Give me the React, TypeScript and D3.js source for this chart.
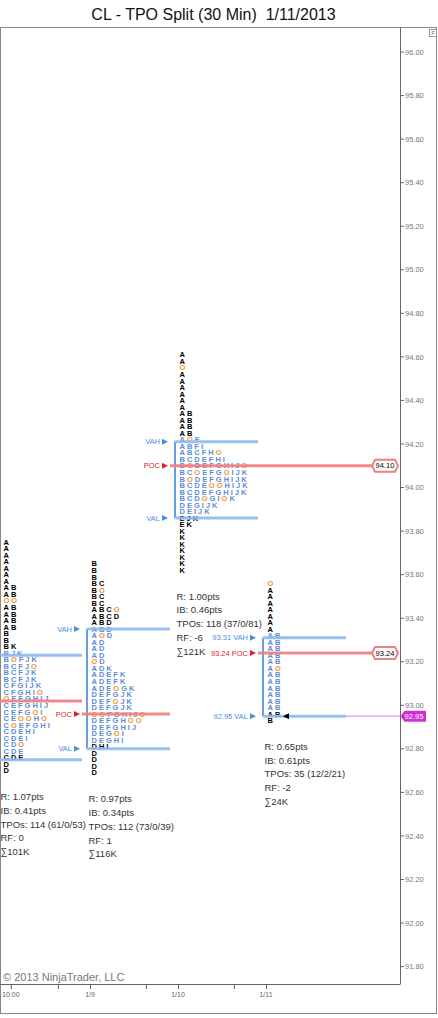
import React from 'react';
import * as d3 from 'd3';

// sessions (x axis) and TPO letters per row, top (high) to bottom (low)
const sessions = ['1/8', '1/9', '1/10', '1/11'];

const rows1 = ['A', 'A', 'A', 'A', 'A', 'A', 'A', 'AB', 'AB', 'OO', 'AB', 'AB', 'AB', 'AB', 'B', 'B', 'BK',
  'BJK', 'BOFJK', 'BCFJO', 'BCFJK', 'BCFJK', 'CFGIJK', 'CFGHIO', 'OEFGHIJ', 'CEFGHIJ', 'CEFGOI', 'CEOOHO',
  'COEFGHI', 'CDEHI', 'CDEI', 'CDO', 'CDE', 'CDE', 'D', 'D'];
const rows2 = ['B', 'B', 'B', 'BC', 'BO', 'BC', 'BC', 'ABCO', 'ABCD', 'ABD', 'ABD', 'AOD', 'AD', 'AD', 'AD', 'OD',
  'ADK', 'ADEFK', 'ADEFK', 'ADEOGK', 'DEFGJK', 'DEFOJK', 'DEFGJK', 'OOFGHIJO', 'DEFGHOO', 'DEFGHIJ', 'DEGOI',
  'DEGHI', 'DHI', 'D', 'D', 'D', 'D'];
const rows3 = ['A', 'A', 'O', 'A', 'A', 'A', 'A', 'A', 'A', 'AB', 'AB', 'AB', 'AB', 'AOF', 'ABFI', 'ABCFHO',
  'BCDEFHI', 'BODEFGHIJO', 'BCOEFGOIJK', 'BODEFGHIJK', 'BCDEOOHIJK', 'BCDEFGHIJK', 'BCDOGIOK', 'DEGIJK',
  'DEIJK', 'EJK', 'EK', 'K', 'K', 'K', 'K', 'K', 'K', 'K'];
const rows4 = ['O', 'A', 'A', 'A', 'A', 'A', 'A', 'A', 'AB', 'AB', 'AB', 'AB', 'AB', 'AO', 'AB', 'AB', 'AB',
  'AB', 'AB', 'AB', 'AB', 'B'];
const profileRows = [rows1, rows2, rows3, rows4];

const profileHighs = [93.75, 93.65, 94.61, 93.56];
const rowSize = 0.03;
const vahs = [93.23, 93.35, 94.21, 93.31];
const pocs = [93.02, 92.96, 94.10, 93.24];
const vals = [92.75, 92.80, 93.86, 92.95];
const nakedPoc = [false, false, true, true];
const showLevelPrices = [false, false, false, true];
const lastPrice = 92.95;

const statR = ['1.07', '0.97', '1.00', '0.65'];
const statIB = ['0.41', '0.34', '0.46', '0.61'];
const statTPO = ['114 (61/0/53)', '112 (73/0/39)', '118 (37/0/81)', '35 (12/2/21)'];
const statRF = ['0', '1', '-6', '-2'];
const statVol = ['101K', '116K', '121K', '24K'];

const xTickValues = [0.1, 0.636, 1, 1.636, 2, 2.636, 3];
const xTickLabels = ['10:00', '', '1/9', '', '1/10', '', '1/11'];

const FONT = '"Liberation Sans", Arial, sans-serif';
const BLUE_TXT = '#5a8cd8';
const ORANGE = '#f0962e';
const VA_LINE = '#8dbbee';
const VA_VERT = '#3f88dc';
const POC_LINE = '#f27e7e';
const POC_LBL = '#e4202a';
const LBL_BLUE = '#4a8ee0';

const W = 438;
const H = 1018;
const plotTop = 27;
const plotBottom = 984;
const axisX = 400.5;

export default function App() {
  const y = d3.scaleLinear().domain([91.72, 96.115]).range([plotBottom, plotTop]);
  const x = d3.scaleLinear().domain([0, sessions.length - 1]).range([2, 266]);
  const yTicks = y.ticks(22);

  const levelLabel = (i: number, name: string, price: number, color: string) => {
    const xs = x(i);
    const yy = y(price);
    // labels of the first session sit left of the chart, out of view
    if (xs - 40 < 0) return null;
    return (
      <g key={name + i}>
        <text x={xs - 18} y={yy} dy="0.35em" textAnchor="end" fontSize={7.5} fill={color} fontFamily={FONT}>
          {showLevelPrices[i] ? `${price.toFixed(2)} ${name}` : name}
        </text>
        <path d={`M${xs - 16},${yy - 3} L${xs - 10},${yy} L${xs - 16},${yy + 3} Z`} fill={color} />
      </g>
    );
  };

  const axisTag = (price: number, key: string) => {
    const yy = y(price);
    return (
      <g key={key}>
        <path d={`M372,${yy} L375,${yy - 6} L395,${yy - 6} L398,${yy} L395,${yy + 6} L375,${yy + 6} Z`}
              fill="#fff" stroke={POC_LINE} strokeWidth={2} />
        <text x={385} y={yy} dy="0.35em" textAnchor="middle" fontSize={7.5} fontFamily={FONT} fill="#000">
          {price.toFixed(2)}
        </text>
      </g>
    );
  };

  return (
    <>
      <style>{'body{margin:0}'}</style>
      <svg width={W} height={H} style={{ display: 'block', background: '#fff' }}>
        <text x={213.5} y={19.5} textAnchor="middle" fontSize={16} fontFamily={FONT} fill="#111"
              style={{ whiteSpace: 'pre' }}>
          {'CL - TPO Split (30 Min)  1/11/2013'}
        </text>

        {/* frame */}
        <rect x={0.5} y={plotTop + 0.5} width={436} height={986} fill="none" stroke="#888" />
        <line x1={axisX} x2={axisX} y1={plotTop} y2={plotBottom} stroke="#666" />
        <line x1={0} x2={axisX} y1={plotBottom + 0.5} y2={plotBottom + 0.5} stroke="#666" />
        <rect x={429.5} y={29.5} width={7} height={7} fill="#fff" stroke="#999" />
        <text x={433} y={35} textAnchor="middle" fontSize={6} fontFamily={FONT} fill="#666">F</text>

        {/* y axis */}
        {yTicks.map(t => (
          <g key={t}>
            <line x1={axisX} x2={axisX + 3.5} y1={y(t)} y2={y(t)} stroke="#666" />
            <text x={405} y={y(t)} dy="0.35em" fontSize={7.5} fontFamily={FONT} fill="#777">{t.toFixed(2)}</text>
          </g>
        ))}

        {/* x axis */}
        {xTickValues.map((v, k) => (
          <g key={v}>
            <line x1={x(v) + 0.5} x2={x(v) + 0.5} y1={plotBottom} y2={plotBottom + 5} stroke="#666" />
            {xTickLabels[k] && (
              <text x={x(v)} y={997} textAnchor="middle" fontSize={7} fontFamily={FONT} fill="#666">
                {xTickLabels[k]}
              </text>
            )}
          </g>
        ))}

        <text x={3} y={981} fontSize={11} fontFamily={FONT} fill="#777">© 2013 NinjaTrader, LLC</text>

        {/* profiles */}
        {profileRows.map((rows, i) => {
          const xs = x(i);
          const high = profileHighs[i];
          const low = high - (rows.length - 1) * rowSize;
          return (
            <g key={sessions[i]}>
              {rows.map((r, k) => {
                const p = high - k * rowSize;
                const inVA = p <= vahs[i] + 0.015 && p > vals[i] + 0.015;
                return (
                  <text key={k} x={xs + 1.5} y={y(p)} dy="0.36em" fontSize={7.5} fontWeight="bold"
                        letterSpacing={2} fontFamily={FONT}>
                    {r.split('').map((c, j) => (
                      <tspan key={j} fill={c === 'O' ? ORANGE : inVA ? BLUE_TXT : '#000'}>{c}</tspan>
                    ))}
                  </text>
                );
              })}

              <line x1={xs - 3} x2={xs - 3} y1={y(vahs[i])} y2={y(vals[i])} stroke={VA_VERT} strokeWidth={1.6} />
              <line x1={xs - 3} x2={xs + 80} y1={y(vahs[i])} y2={y(vahs[i])} stroke={VA_LINE} strokeWidth={3}
                    opacity={0.9} />
              <line x1={xs - 3} x2={xs + 80} y1={y(vals[i])} y2={y(vals[i])} stroke={VA_LINE} strokeWidth={3}
                    opacity={0.9} />
              <line x1={xs - 8} x2={nakedPoc[i] ? 372 : xs + 80} y1={y(pocs[i])} y2={y(pocs[i])}
                    stroke={POC_LINE} strokeWidth={3} opacity={0.9} />

              {levelLabel(i, 'VAH', vahs[i], LBL_BLUE)}
              {levelLabel(i, 'POC', pocs[i], POC_LBL)}
              {levelLabel(i, 'VAL', vals[i], LBL_BLUE)}
              {nakedPoc[i] && axisTag(pocs[i], 'tag' + i)}

              {[`R: ${statR[i]}pts`, `IB: ${statIB[i]}pts`, `TPOs: ${statTPO[i]}`, `RF: ${statRF[i]}`,
                `∑${statVol[i]}`].map((s, j) => (
                <text key={j} x={xs - 1.5} y={y(low) + 26 + j * 13.8} dy="0.35em" fontSize={9.5}
                      fontFamily={FONT} fill="#333">{s}</text>
              ))}
            </g>
          );
        })}

        {/* last price marker */}
        {(() => {
          const xs = x(sessions.length - 1);
          const yy = y(lastPrice);
          return (
            <g>
              <line x1={xs + 80} x2={axisX} y1={yy} y2={yy} stroke="#e07ae0" strokeWidth={1} />
              <path d={`M${xs + 17},${yy} L${xs + 23},${yy - 3} L${xs + 23},${yy + 3} Z`} fill="#000" />
              <path d={`M${axisX},${yy} L${axisX + 4},${yy - 5.5} L426,${yy - 5.5} L426,${yy + 5.5} L${axisX + 4},${yy + 5.5} Z`}
                    fill="#d030d0" />
              <text x={414} y={yy} dy="0.35em" textAnchor="middle" fontSize={7.5} fontFamily={FONT} fill="#fff">
                {lastPrice.toFixed(2)}
              </text>
            </g>
          );
        })()}
      </svg>
    </>
  );
}
